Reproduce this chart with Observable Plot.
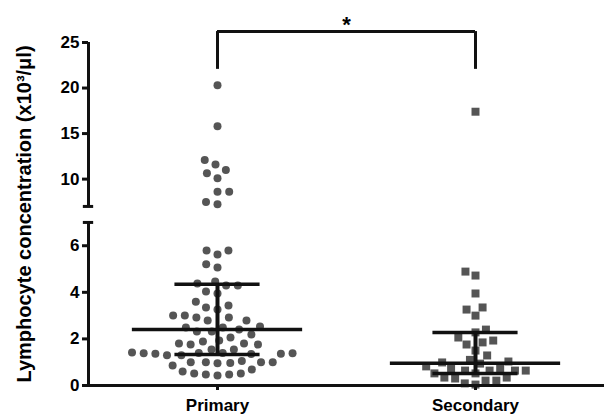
<!DOCTYPE html>
<html><head><meta charset="utf-8">
<script src="https://cdn.jsdelivr.net/npm/d3@7"></script>
<script src="https://cdn.jsdelivr.net/npm/@observablehq/plot@0.6"></script>
<style>body{margin:0;background:#fff;} svg{display:block}</style>
</head><body><div id="chart"></div>
<script>
// ---- data ----
const groups = ["Primary", "Secondary"];
const primaryValues = [20.3, 15.8, 12.1, 11.6, 11.0, 10.65, 10.1, 8.6, 8.6, 7.5, 7.25,
  5.8, 5.8, 5.62, 5.2, 5.07,
  4.47, 4.38, 4.29, 4.29, 4.04, 3.95,
  3.6, 3.43, 3.35, 3.26,
  3.0, 3.0, 2.92, 2.92, 2.79, 2.79,
  2.53, 2.49, 2.49, 2.4, 2.32, 2.32, 2.19, 2.06,
  1.93, 1.89, 1.8, 1.8, 1.76, 1.76, 1.55, 1.55,
  1.42, 1.4, 1.38, 1.36, 1.35, 1.36, 1.38, 1.4, 1.3, 1.3,
  1.05, 1.0, 1.0, 1.0, 0.97, 0.95, 1.0,
  0.86, 0.69,
  0.6, 0.52, 0.52, 0.47, 0.47, 0.43];
const secondaryValues = [17.4, 4.89, 4.72, 3.95, 3.35, 3.26, 3.0, 2.4, 2.28, 2.06, 1.93, 1.85,
  1.76, 1.5, 1.29, 1.1, 1.03, 0.99, 0.94, 0.82, 0.73, 0.73, 0.64, 0.64, 0.64, 0.64,
  0.52, 0.52, 0.34, 0.34, 0.3, 0.21, 0.21, 0.09, 0.04];
const medians = [2.4, 0.95];
const lowerQuartiles = [1.33, 0.52];
const upperQuartiles = [4.35, 2.28];
const yTicks = [0, 2, 4, 6, 10, 15, 20, 25];
const yBreak = 7;
const yMax = 25;
const sigPair = ["Primary", "Secondary"];
const sigLabel = "*";
const sigTop = 26.2;
const sigDrop = 22.05;
const yLabel = "Lymphocyte concentration (x10³/μl)";

// ---- broken-axis transform ----
const eps = 1e-6;
const breakGap = 0.687, upperScale = 0.391;
const yT = v => v <= yBreak ? v : yBreak + breakGap + (v - yBreak) * upperScale;

const primaryTable = primaryValues.map(v => ({group: "Primary", value: v})).sort((a, b) => a.value - b.value);
const secondaryTable = secondaryValues.map(v => ({group: "Secondary", value: v})).sort((a, b) => a.value - b.value);
const stats = groups.map((g, i) => ({group: g, median: medians[i], q1: lowerQuartiles[i], q3: upperQuartiles[i]}));
const axisSegments = [[0, yBreak], [yBreak + eps, yMax]];
const xDomain = [-1, 1];
const medianHalf = 0.66, capHalf = 0.33, breakCap = 0.04;
const ink = "#111";
const dotFill = "#555";

const chart = Plot.plot({
  width: 604, height: 414,
  marginLeft: 88, marginRight: 0, marginTop: 42, marginBottom: 29,
  style: {fontFamily: "'Liberation Sans', Arial, sans-serif", background: "#fff", color: "#000"},
  fx: {domain: groups, padding: 0},
  x: {domain: xDomain, axis: null},
  y: {domain: [0, yT(yMax)], transform: yT},
  marks: [
    Plot.dot(primaryTable, Plot.dodgeX({anchor: "middle", padding: 3.7}, {y: "value", fx: "group", r: 4, fill: dotFill})),
    Plot.dot(secondaryTable, Plot.dodgeX({anchor: "middle", padding: 1.8}, {y: "value", fx: "group", r: 4.5, symbol: "square", fill: dotFill})),
    Plot.ruleY(stats, {fx: "group", y: "median", x1: -medianHalf, x2: medianHalf, stroke: ink, strokeWidth: 3.5}),
    Plot.ruleY(stats, {fx: "group", y: "q1", x1: -capHalf, x2: capHalf, stroke: ink, strokeWidth: 3.5}),
    Plot.ruleY(stats, {fx: "group", y: "q3", x1: -capHalf, x2: capHalf, stroke: ink, strokeWidth: 3.5}),
    Plot.ruleX(stats, {fx: "group", x: 0, y1: "q1", y2: "q3", stroke: ink, strokeWidth: 4}),
    Plot.ruleX(axisSegments, {x: xDomain[0], y1: d => d[0], y2: d => d[1], stroke: ink, strokeWidth: 3, facetAnchor: "left"}),
    Plot.ruleY([yBreak, yBreak + eps], {y: d => d, x1: xDomain[0] - breakCap, x2: xDomain[0] + breakCap, stroke: ink, strokeWidth: 3, facetAnchor: "left"}),
    Plot.axisY(yTicks, {tickSize: 6, tickPadding: 3, stroke: ink, strokeWidth: 3, fontSize: 17, fontWeight: "bold", label: null}),
    Plot.text([yLabel], {text: d => d, frameAnchor: "left", textAnchor: "middle", rotate: -90, dx: -64, dy: 0, fontSize: 20, fontWeight: "bold", facetAnchor: "left"}),
    Plot.ruleY([0], {stroke: ink, strokeWidth: 3}),
    Plot.axisFx({anchor: "bottom", tickSize: 5, tickPadding: 8, fontSize: 17, fontWeight: "bold", stroke: ink, strokeWidth: 3, label: null}),
    Plot.ruleX(sigPair, {fx: d => d, x: 0, y1: sigDrop, y2: sigTop, stroke: ink, strokeWidth: 3}),
    Plot.ruleY(sigPair, {fx: d => d, y: sigTop, x1: d => d === sigPair[0] ? 0 : xDomain[0], x2: d => d === sigPair[0] ? xDomain[1] : 0, stroke: ink, strokeWidth: 3}),
    Plot.text([sigLabel], {fx: () => sigPair[0], x: xDomain[1], y: sigTop, dy: -7, text: d => d, fontSize: 22, fontWeight: "bold"})
  ]
});
document.getElementById("chart").append(chart);
</script></body></html>
